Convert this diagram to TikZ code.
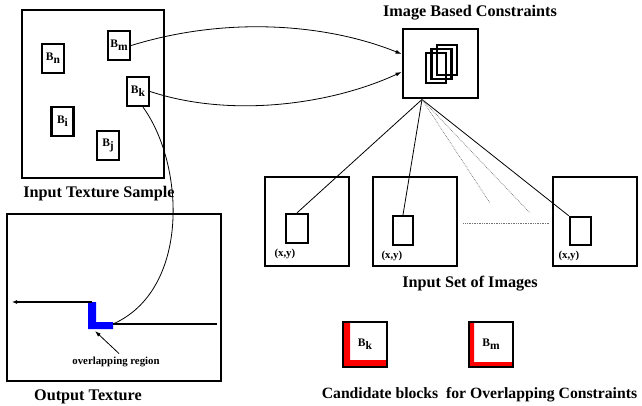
\documentclass[tikz,border=0pt]{standalone}
\usepackage{fontspec}
\setmainfont{Liberation Serif}
\usepackage{tikz}
\usetikzlibrary{
    arrows.meta,
    calc,
    positioning
}

\newcommand{\blocklab}[1]{B\raisebox{-0.5ex}{#1}}

\tikzset{
    bigbox/.style={draw, line width=2.9pt, inner sep=0pt},
    blkbox/.style={draw, line width=2.3pt, inner sep=0pt, minimum width=22pt, minimum height=29pt,
        font=\fontsize{11.5}{11.5}\selectfont\bfseries},
    caption/.style={font=\fontsize{16.2}{18}\selectfont\bfseries},
    smalllab/.style={font=\fontsize{10.8}{12}\selectfont\bfseries},
    link/.style={line width=0.8pt},
    faint/.style={line width=0.7pt, densely dotted, black!55}
}

\begin{document}
\begin{tikzpicture}[x=1pt, y=-1pt, >={Latex[length=6pt, width=4pt]}]
    \useasboundingbox (0,0) rectangle (642,405);

    % input texture sample
    \node[bigbox, minimum width=142pt, minimum height=168pt] (sample) at (93,94) {};
    \node[caption] (samplecap) at (99,194) {Input Texture Sample};
    \node[blkbox] (bn) at (53,58.5) {\blocklab{n}};
    \node[blkbox] (bm) at (119,45.5) {\blocklab{m}};
    \node[blkbox] (bk) at (138,91.5) {\blocklab{k}};
    \node[blkbox] (bi) at (62.5,121.5) {\blocklab{i}};
    \node[blkbox] (bj) at (108,145.5) {\blocklab{j}};

    % output texture
    \node[bigbox, minimum width=214pt, minimum height=167pt] (output) at (114,297.5) {};
    \node[caption] (outcap) at (88,397) {Output Texture};
    \coordinate (stepl) at (12,302);
    \coordinate (stept) at (92,302);
    \coordinate (ovl) at (113,324);
    \coordinate (stepr) at (217,324);
    \coordinate (ovcorner) at (95,331);
    \fill[blue] (88,302) -- (96,302) -- (96,322) -- (113,322) -- (113,329) -- (88,329) -- cycle;
    \draw[line width=2pt, -{Latex[length=5pt, width=4pt]}] (stept) -- (stepl);
    \draw[line width=2pt] (ovl) -- (stepr);
    \node[smalllab] (ovtext) at (116,362) {overlapping region};
    \draw[link, ->] ([xshift=3pt]ovtext.north) -- (ovcorner);

    % image based constraints
    \node[caption] (ibccap) at (470,13) {Image Based Constraints};
    \node[bigbox, minimum width=75pt, minimum height=69pt] (ibc) at (440.5,63.5) {};
    \foreach \dx/\dy in {0/0, 5.5/-4, 11/-8}
        \draw[line width=2.2pt] ($(426,53)+(\dx,\dy)$) rectangle ++(20,30);

    % input set of images
    \foreach \n/\x in {1/307, 2/415, 3/595}
        \node[bigbox, minimum width=84pt, minimum height=89pt] (img\n) at (\x,221.5) {};
    \node[blkbox] (win1) at (297,228.5) {};
    \node[blkbox, minimum width=20pt] (win2) at (403,230.5) {};
    \node[blkbox, minimum width=21pt, minimum height=28pt] (win3) at (580.5,231) {};
    \node[smalllab, below=1pt of win1.south west] (xy1) {(x,y)};
    \node[smalllab, below=1pt of win2.south west] (xy2) {(x,y)};
    \node[smalllab, below=1pt of win3.south west] (xy3) {(x,y)};
    \node[caption] (setcap) at (470,284) {Input Set of Images};

    \coordinate (fan) at ([xshift=-18.5pt]ibc.south);
    \coordinate (dot1) at (490,203);
    \coordinate (dot2) at (530,213);
    \draw[link] (fan) -- (win1.north);
    \draw[link] (fan) -- (win2.north);
    \draw[link] (fan) -- (win3.north west);
    \draw[faint] (fan) -- (dot1);
    \draw[faint] (fan) -- (dot2);
    \draw[faint] ([xshift=5pt, yshift=-1.5pt]img2.east) -- ([xshift=-3pt, yshift=-1.5pt]img3.west);

    % candidate blocks
    \fill[red] (343,322) rectangle ++(7,45) (343,360) rectangle ++(44,7);
    \fill[red] (469,322) rectangle ++(5,45) (469,362) rectangle ++(44,5);
    \node[bigbox, line width=2.3pt, minimum width=44pt, minimum height=45pt,
        font=\fontsize{11.5}{11.5}\selectfont\bfseries] (cand1) at (365,344.5) {\blocklab{k}};
    \node[bigbox, line width=2.3pt, minimum width=44pt, minimum height=45pt,
        font=\fontsize{11.5}{11.5}\selectfont\bfseries] (cand2) at (491,344.5) {\blocklab{m}};
    \node[caption, font=\fontsize{15.7}{18}\selectfont\bfseries] (candcap) at (479.5,395)
        {Candidate blocks\ \ for Overlapping Constraints};

    % connectors
    \draw[link, ->] (bm.east) .. controls (230,15) and (330,25) .. ([yshift=9.5pt]ibc.west);
    \draw[link, ->] (bk.east) .. controls (230,118) and (330,105) .. ([yshift=-8.5pt]ibc.west);
    \draw[link] ([xshift=5pt]bk.south) .. controls (185,165) and (190,290) .. (ovl);
\end{tikzpicture}
\end{document}
